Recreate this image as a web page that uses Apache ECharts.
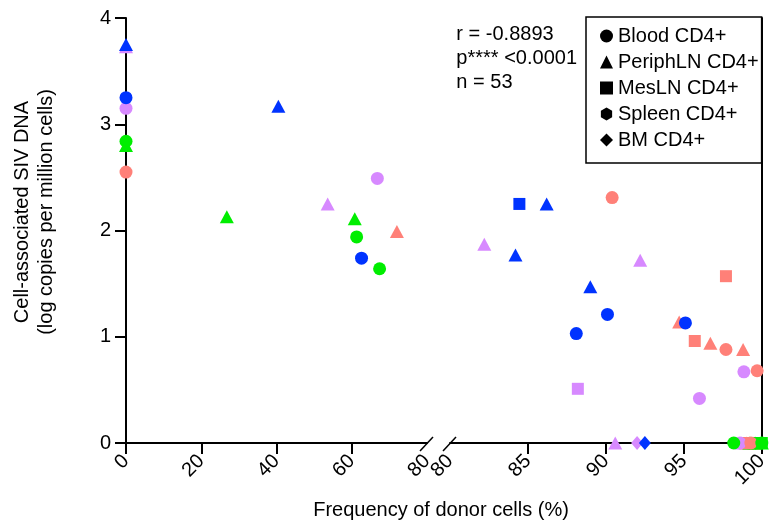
<!DOCTYPE html>
<html><head><meta charset="utf-8">
<script src="https://cdn.jsdelivr.net/npm/echarts@6/dist/echarts.min.js"></script>
<style>html,body{margin:0;padding:0;background:#fff}#c{width:771px;height:523px}</style>
</head><body><div id="c"></div>
<script>
// ---- data ----
const tissues = ['Blood CD4+', 'PeriphLN CD4+', 'MesLN CD4+', 'Spleen CD4+', 'BM CD4+'];
const animals = ['D', 'C', 'B', 'A'];
const leftTicks = [0, 20, 40, 60, 80];
const rightTicks = [80, 85, 90, 95, 100];
const yTicks = [0, 1, 2, 3, 4];
// [donor %, log copies, animal]
const bloodPts = [
  [0, 3.15, 'D'], [66.8, 2.49, 'D'], [98.6, 0, 'D'],
  [0, 2.55, 'C'], [90.4, 2.31, 'C'], [97.7, 0.88, 'C'], [99.7, 0.68, 'C'], [99.3, 0, 'C'],
  [0, 2.84, 'B'], [61.3, 1.94, 'B'], [67.4, 1.64, 'B'], [98.2, 0, 'B'], [100, 0, 'B'],
  [0, 3.25, 'A'], [62.6, 1.74, 'A'], [88.1, 1.03, 'A'], [90.1, 1.21, 'A'], [95.1, 1.13, 'A']
];
const periphPts = [
  [0, 3.73, 'D'], [53.6, 2.25, 'D'], [82.2, 1.87, 'D'], [92.2, 1.72, 'D'], [90.6, 0, 'D'], [98.7, 0, 'D'],
  [72, 1.99, 'C'], [94.7, 1.14, 'C'], [96.7, 0.94, 'C'], [98.8, 0.88, 'C'], [99.0, 0, 'C'], [99.5, 0, 'C'],
  [0, 2.80, 'B'], [26.8, 2.13, 'B'], [60.8, 2.11, 'B'], [99.2, 0, 'B'], [99.6, 0, 'B'], [100, 0, 'B'],
  [0, 3.75, 'A'], [40.5, 3.17, 'A'], [86.2, 2.25, 'A'], [84.2, 1.77, 'A'], [89.0, 1.47, 'A']
];
const mesPts = [
  [88.2, 0.51, 'D'], [99.4, 0, 'D'],
  [97.7, 1.57, 'C'], [95.7, 0.96, 'C'], [98.9, 0, 'C'],
  [99.8, 0, 'B'], [100, 0, 'B'],
  [84.45, 2.25, 'A']
];
const spleenPts = [
  [96.0, 0.42, 'D'], [98.85, 0.67, 'D']
];
const bmPts = [
  [92.0, 0, 'D'], [92.5, 0, 'A']
];
const statsText = ['r = -0.8893', 'p**** <0.0001', 'n = 53'];
const xTitle = 'Frequency of donor cells (%)';
const yTitle = ['Cell-associated SIV DNA', '(log copies per million cells)'];

// ---- styles ----
const colorOf = { A: '#0033ff', B: '#00ee00', C: '#ff8078', D: '#d789ff' };
const FONT = 'Liberation Sans, Arial, Helvetica, sans-serif';
const FS = 20;
const hexPath = 'path://M50,0 L93.3,25 L93.3,75 L50,100 L6.7,75 L6.7,25 Z';
const symbolOf = {
  'Blood CD4+': 'circle', 'PeriphLN CD4+': 'triangle', 'MesLN CD4+': 'rect',
  'Spleen CD4+': 'circle', 'BM CD4+': 'diamond'
};
const sizeOf = {
  'Blood CD4+': 13, 'PeriphLN CD4+': [14, 13], 'MesLN CD4+': 12,
  'Spleen CD4+': 13, 'BM CD4+': [12, 14]
};
const ptsOf = {
  'Blood CD4+': bloodPts, 'PeriphLN CD4+': periphPts, 'MesLN CD4+': mesPts,
  'Spleen CD4+': spleenPts, 'BM CD4+': bmPts
};
const legendIcon = {
  'Blood CD4+': 'circle', 'PeriphLN CD4+': 'triangle', 'MesLN CD4+': 'rect',
  'Spleen CD4+': hexPath, 'BM CD4+': 'diamond'
};

const chart = echarts.init(document.getElementById('c'), null, { renderer: 'canvas' });

const axisLineStyle = { color: '#000', width: 2 };
const labelStyle = { color: '#000', fontSize: FS, fontFamily: FONT };

const series = [];
const drawOrder = ['PeriphLN CD4+', 'MesLN CD4+', 'BM CD4+', 'Spleen CD4+', 'Blood CD4+'];
drawOrder.forEach(t => {
  [0, 1].forEach(g => {
    const pts = ptsOf[t].filter(p => g === 0 ? p[0] < 80 : p[0] >= 80);
    series.push({
      type: 'scatter', name: t, xAxisIndex: g, yAxisIndex: g, clip: false,
      symbol: symbolOf[t], symbolSize: sizeOf[t],
      data: pts.map(p => ({ value: [p[0], p[1]], itemStyle: { color: colorOf[p[2]] } })),
      itemStyle: { color: '#000', opacity: 1 },
      emphasis: { disabled: true }
    });
  });
});

const option = {
  animation: false,
  backgroundColor: '#fff',
  grid: [
    { left: 126, right: 771 - 427, top: 18, bottom: 523 - 443 },
    { left: 450, right: 771 - 765, top: 18, bottom: 523 - 443 }
  ],
  xAxis: [
    {
      gridIndex: 0, type: 'value', min: 0, max: 80, interval: 20,
      axisLine: { lineStyle: axisLineStyle, onZero: false },
      axisTick: { show: true, length: 11, lineStyle: axisLineStyle, customValues: leftTicks.slice(0, 4) },
      axisLabel: Object.assign({ rotate: 45, margin: 15, customValues: leftTicks }, labelStyle),
      splitLine: { show: false }
    },
    {
      gridIndex: 1, type: 'value', min: 80, max: 100, interval: 5,
      axisLine: { lineStyle: axisLineStyle, onZero: false },
      axisTick: { show: true, length: 11, lineStyle: axisLineStyle, customValues: rightTicks.slice(1) },
      axisLabel: Object.assign({ rotate: 45, margin: 15, customValues: rightTicks }, labelStyle),
      splitLine: { show: false }
    }
  ],
  yAxis: [
    {
      gridIndex: 0, type: 'value', min: 0, max: 4, interval: 1,
      axisLine: { show: true, lineStyle: axisLineStyle, onZero: false },
      axisTick: { show: true, length: 11, lineStyle: axisLineStyle },
      axisLabel: Object.assign({ margin: 15, customValues: yTicks }, labelStyle),
      splitLine: { show: false }
    },
    {
      gridIndex: 1, type: 'value', min: 0, max: 4, interval: 1, position: 'right',
      axisLine: { show: true, lineStyle: axisLineStyle, onZero: false },
      axisTick: { show: false }, axisLabel: { show: false },
      splitLine: { show: false }
    }
  ],
  legend: {
    orient: 'vertical', left: 586, top: 17,
    padding: [9, 3, 13, 14],
    borderColor: '#000', borderWidth: 1.5, borderRadius: 0,
    itemWidth: 13, itemHeight: 13, itemGap: 6, selectedMode: false,
    textStyle: { color: '#000', fontSize: FS, fontFamily: FONT, lineHeight: 20 },
    data: tissues.map(t => ({ name: t, icon: legendIcon[t], itemStyle: { color: '#000' } }))
  },
  graphic: [
    {
      type: 'text', right: 771 - 577, top: 22,
      style: { text: statsText.join('\n'), fill: '#000', fontSize: FS, fontFamily: FONT, lineHeight: 24, align: 'right' }
    },
    {
      type: 'text', x: 441, y: 510,
      style: { text: xTitle, fill: '#000', fontSize: FS, fontFamily: FONT, align: 'center', verticalAlign: 'middle' }
    },
    {
      type: 'text', x: 34, y: 212, rotation: Math.PI / 2,
      style: { text: yTitle.join('\n'), fill: '#000', fontSize: FS, fontFamily: FONT, lineHeight: 24, align: 'center', verticalAlign: 'middle' }
    },
    { type: 'line', shape: { x1: 420, y1: 451, x2: 433, y2: 437 }, style: { stroke: '#000', lineWidth: 1.5 } },
    { type: 'line', shape: { x1: 443, y1: 451, x2: 456, y2: 437 }, style: { stroke: '#000', lineWidth: 1.5 } }
  ],
  series: series
};
chart.setOption(option);
</script>
</body></html>
